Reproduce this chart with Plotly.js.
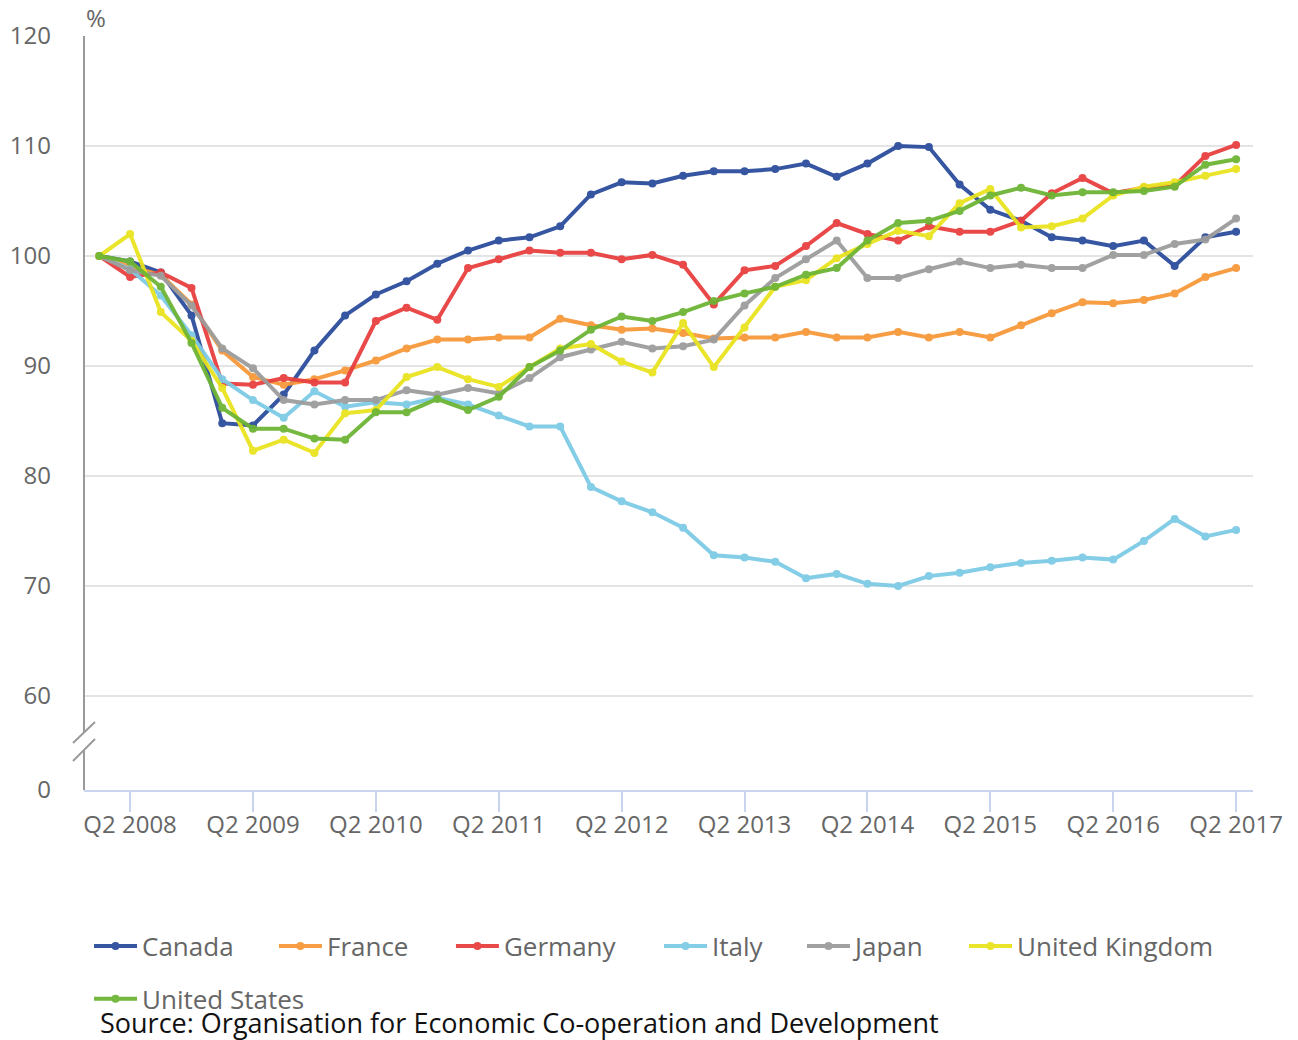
<!DOCTYPE html>
<html>
<head>
<meta charset="utf-8">
<script src="https://cdn.plot.ly/plotly-3.0.1.min.js"></script>
<style>html,body{margin:0;padding:0;background:#fff;}#chart{width:1298px;height:1040px;}</style>
</head>
<body>
<div id="chart"></div>
<script>
const quarters = ["Q1 2008","Q2 2008","Q3 2008","Q4 2008","Q1 2009","Q2 2009","Q3 2009","Q4 2009",
  "Q1 2010","Q2 2010","Q3 2010","Q4 2010","Q1 2011","Q2 2011","Q3 2011","Q4 2011",
  "Q1 2012","Q2 2012","Q3 2012","Q4 2012","Q1 2013","Q2 2013","Q3 2013","Q4 2013",
  "Q1 2014","Q2 2014","Q3 2014","Q4 2014","Q1 2015","Q2 2015","Q3 2015","Q4 2015",
  "Q1 2016","Q2 2016","Q3 2016","Q4 2016","Q1 2017","Q2 2017"];
const tickLabels = ["Q2 2008","Q2 2009","Q2 2010","Q2 2011","Q2 2012","Q2 2013","Q2 2014","Q2 2015","Q2 2016","Q2 2017"];

const canada  = [100,99.5,98.5,94.6,84.8,84.6,87.4,91.4,94.6,96.5,97.7,99.3,100.5,101.4,101.7,102.7,105.6,106.7,106.6,107.3,107.7,107.7,107.9,108.4,107.2,108.4,110.0,109.9,106.5,104.2,103.2,101.7,101.4,100.9,101.4,99.1,101.7,102.2];
const france  = [100,99.0,98.3,95.6,91.4,89.0,88.3,88.8,89.6,90.5,91.6,92.4,92.4,92.6,92.6,94.3,93.7,93.3,93.4,93.0,92.5,92.6,92.6,93.1,92.6,92.6,93.1,92.6,93.1,92.6,93.7,94.8,95.8,95.7,96.0,96.6,98.1,98.9];
const germany = [100,98.1,98.5,97.1,88.4,88.3,88.9,88.5,88.5,94.1,95.3,94.2,98.9,99.7,100.5,100.3,100.3,99.7,100.1,99.2,95.6,98.7,99.1,100.9,103.0,102.0,101.4,102.7,102.2,102.2,103.2,105.7,107.1,105.7,106.2,106.4,109.1,110.1];
const italy   = [100,98.8,96.4,92.8,88.8,86.9,85.3,87.7,86.3,86.7,86.5,87.1,86.5,85.5,84.5,84.5,79.0,77.7,76.7,75.3,72.8,72.6,72.2,70.7,71.1,70.2,70.0,70.9,71.2,71.7,72.1,72.3,72.6,72.4,74.1,76.1,74.5,75.1];
const japan   = [100,98.7,98.2,95.5,91.6,89.8,86.9,86.5,86.9,86.9,87.8,87.4,88.0,87.5,88.9,90.8,91.5,92.2,91.6,91.8,92.4,95.5,98.0,99.7,101.4,98.0,98.0,98.8,99.5,98.9,99.2,98.9,98.9,100.1,100.1,101.1,101.5,103.4];
const uk      = [100,102.0,94.9,92.3,88.0,82.3,83.3,82.1,85.7,86.0,89.0,89.9,88.8,88.1,89.9,91.6,92.0,90.4,89.4,93.9,89.9,93.5,97.2,97.8,99.8,101.1,102.3,101.8,104.8,106.1,102.6,102.7,103.4,105.5,106.3,106.7,107.3,107.9];
const us      = [100,99.5,97.2,92.1,86.2,84.3,84.3,83.4,83.3,85.8,85.8,87.0,86.0,87.2,89.9,91.4,93.3,94.5,94.1,94.9,95.9,96.6,97.2,98.3,98.9,101.4,103.0,103.2,104.1,105.5,106.2,105.5,105.8,105.8,105.9,106.3,108.3,108.8];

const seriesNames = ["Canada","France","Germany","Italy","Japan","United Kingdom","United States"];
const seriesData = [canada, france, germany, italy, japan, uk, us];
const seriesColors = ["#2c4d9c","#f7993b","#e8403f","#7ecbe5","#9d9d9d","#e9e31f","#6db535"];

// Broken axis: "0" label sits below 60 at the break position
const yTickVals = [51.4545, 60, 70, 80, 90, 100, 110, 120];
const yTickText = ["0","60","70","80","90","100","110","120"];

const legendIds = ['legend','legend2','legend3','legend4','legend5','legend6','legend7'];
// legend placement (paper fractions)
const legendX = [0.0043, 0.1625, 0.3139, 0.4919, 0.6142, 0.7528, 0.0043];
const legendY = [-0.207, -0.207, -0.207, -0.207, -0.207, -0.207, -0.277];

const traces = seriesNames.map((n, k) => ({
  type: 'scatter', mode: 'lines+markers', name: n,
  x: quarters, y: seriesData[k],
  line: {color: seriesColors[k], width: 4},
  marker: {color: seriesColors[k], size: 8},
  opacity: 0.95,
  legend: legendIds[k],
  hoverinfo: 'x+y+name'
}));

const axisGrey = '#9a9a9a';
const legendFont = {family: 'Open Sans, sans-serif', size: 26, color: '#666'};

const layout = {
  width: 1298, height: 1040,
  margin: {l: 84, r: 45, t: 36, b: 250},
  paper_bgcolor: '#fff', plot_bgcolor: '#fff',
  font: {family: 'Open Sans, sans-serif', color: '#666', size: 24},
  showlegend: true,
  xaxis: {
    type: 'category',
    range: [-0.5, 37.55],
    tickmode: 'array',
    tickvals: tickLabels.map(t => t),
    ticktext: tickLabels,
    showgrid: false, zeroline: false,
    showline: true, linecolor: '#c9d5ee', linewidth: 2,
    ticks: 'outside', ticklen: 20, tickwidth: 2, tickcolor: '#c9d5ee',
    ticklabelstandoff: -8,
    tickfont: {size: 24, color: '#666'},
    tickangle: 0
  },
  yaxis: {
    range: [51.4545, 120],
    tickmode: 'array', tickvals: yTickVals, ticktext: yTickText,
    showgrid: true, gridcolor: '#e4e4e4', gridwidth: 2,
    zeroline: false, showline: false,
    ticks: '', ticklabelstandoff: 32,
    tickfont: {size: 24, color: '#666'}
  },
  shapes: [
    {type: 'line', xref: 'paper', yref: 'y', x0: 0, x1: 0, y0: 120, y1: 56.64, line: {color: axisGrey, width: 2}},
    {type: 'line', xref: 'paper', yref: 'y', x0: 0, x1: 0, y0: 55.09, y1: 51.4545, line: {color: axisGrey, width: 2}},
    {type: 'line', xref: 'paper', yref: 'y', xsizemode: 'pixel', xanchor: 0, x0: -11, x1: 11, y0: 55.73, y1: 57.64, line: {color: axisGrey, width: 2}},
    {type: 'line', xref: 'paper', yref: 'y', xsizemode: 'pixel', xanchor: 0, x0: -11, x1: 11, y0: 54.09, y1: 56.09, line: {color: axisGrey, width: 2}}
  ],
  annotations: [
    {text: '%', xref: 'paper', yref: 'paper', x: 0.0, y: 1, xanchor: 'left', yanchor: 'bottom', xshift: 0, yshift: 0,
     showarrow: false, font: {size: 24, color: '#666'}},
    {text: 'Source: Organisation for Economic Co-operation and Development', xref: 'paper', yref: 'paper',
     x: 0.012, y: -0.3077, xanchor: 'left', yanchor: 'middle', showarrow: false,
     font: {size: 27, color: '#111'}}
  ]
};

legendIds.forEach((id, k) => {
  layout[id] = {
    orientation: 'h', x: legendX[k], xanchor: 'left', y: legendY[k], yanchor: 'middle',
    font: legendFont, itemwidth: 43, bgcolor: 'rgba(0,0,0,0)'
  };
});

Plotly.newPlot('chart', traces, layout, {displayModeBar: false, staticPlot: true});
</script>
</body>
</html>
